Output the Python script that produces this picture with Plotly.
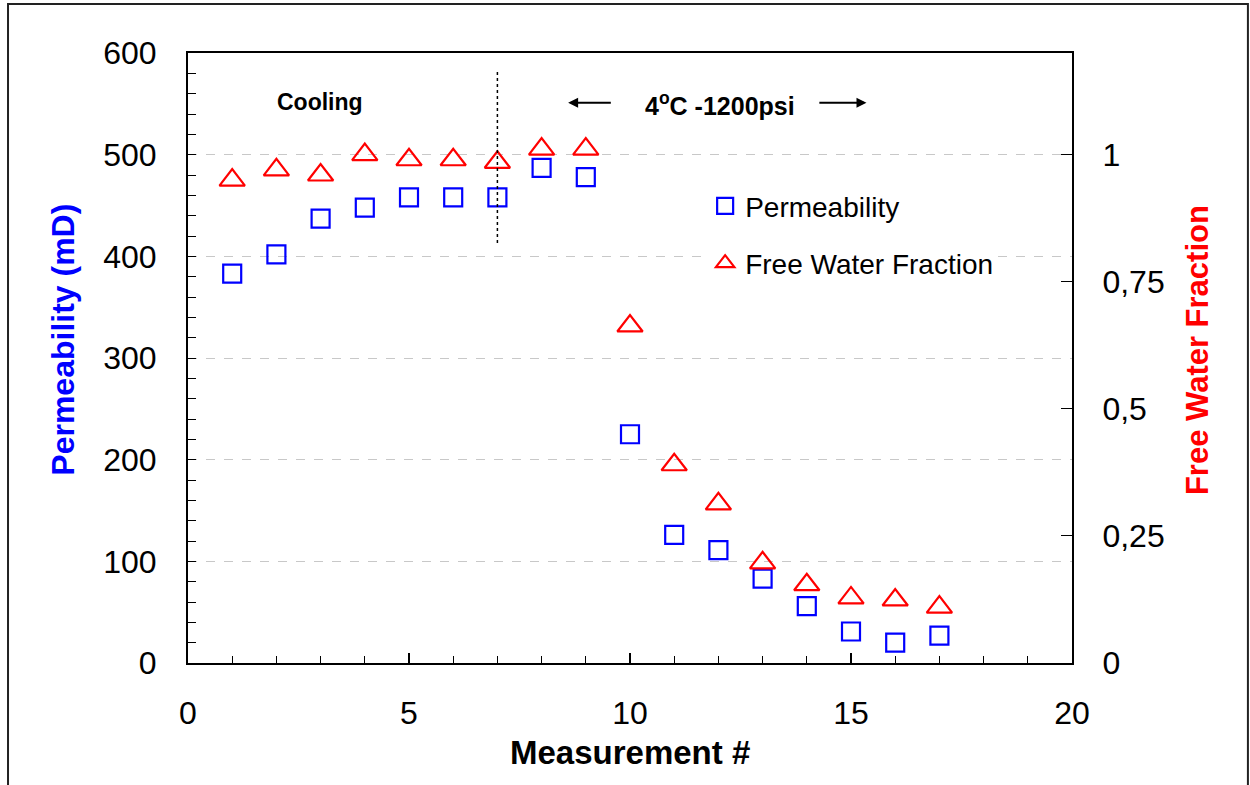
import plotly.graph_objects as go

measurement = list(range(1, 18))
permeability = [383, 402, 437, 448, 458, 458, 458, 487, 478, 225, 126, 111, 83, 56, 31, 20, 27]
free_water = [0.95, 0.97, 0.96, 1.0, 0.99, 0.99, 0.985, 1.011, 1.011, 0.663, 0.39, 0.313,
              0.197, 0.154, 0.128, 0.124, 0.11]

FONT = "Liberation Sans, Arial, sans-serif"
BLUE = "#0000FF"
RED = "#FF0000"

fig = go.Figure()
fig.add_trace(go.Scatter(
    x=measurement, y=permeability, mode="markers", name="Permeability",
    marker=dict(symbol="square-open", size=18, color=BLUE, line=dict(width=2.2, color=BLUE)),
    legendgroup="a", yaxis="y"))
fig.add_trace(go.Scatter(
    x=measurement, y=free_water, mode="markers", name="Free Water Fraction",
    marker=dict(symbol="triangle-up-open", size=22, color=RED, line=dict(width=2.2, color=RED)),
    legendgroup="b", yaxis="y2"))

fig.update_layout(
    width=1250, height=785,
    margin=dict(l=188, r=178, t=53, b=122),
    paper_bgcolor="white", plot_bgcolor="white",
    separators=",.",
    font=dict(family=FONT, size=32, color="black"),
    showlegend=True,
    legend=dict(x=0.585, y=0.79, xanchor="left", yanchor="top",
                bgcolor="white", font=dict(size=28, family=FONT),
                traceorder="grouped", tracegroupgap=18, itemwidth=30),
    xaxis=dict(range=[0, 20], dtick=5, tick0=0, showgrid=False, zeroline=False,
               showline=True, linecolor="black", linewidth=2, mirror=True,
               ticks="inside", ticklen=10, tickwidth=1.5, tickcolor="black",
               minor=dict(dtick=1, ticks="inside", ticklen=7, tickwidth=1.2, tickcolor="black", showgrid=False),
               ticklabelstandoff=21, tickfont=dict(size=32)),
    yaxis=dict(range=[0, 600], dtick=100, tick0=0, showgrid=True, gridcolor="#c8c8c8",
               griddash="dash", gridwidth=1, zeroline=False,
               showline=True, linecolor="black", linewidth=2, mirror=True,
               ticks="inside", ticklen=8, tickwidth=1.2, tickcolor="black",
               minor=dict(dtick=20, ticks="inside", ticklen=8, tickwidth=1.2, tickcolor="black", showgrid=False),
               ticklabelstandoff=23, tickfont=dict(size=32)),
    yaxis2=dict(range=[0, 1.2], overlaying="y", side="right", showgrid=False, zeroline=False,
                tickvals=[0, 0.25, 0.5, 0.75, 1], ticktext=["0", "0,25", "0,5", "0,75", "1"],
                showline=True, linecolor="black", linewidth=2,
                ticks="inside", ticklen=11, tickwidth=1.2, tickcolor="black",
                ticklabelstandoff=22, tickfont=dict(size=32)),
)

# vertical dotted divider at measurement 7
fig.add_shape(type="line", xref="x", yref="y", x0=7, x1=7, y0=413, y1=583,
              line=dict(color="black", width=1.5, dash="dot"))

# outer border
fig.add_shape(type="rect", xref="paper", yref="paper",
              x0=-0.2036, x1=1.199, y0=-0.215, y1=1.0803,
              line=dict(color="#222222", width=2), fillcolor="rgba(0,0,0,0)", layer="below")

fig.add_annotation(x=2.99, y=552, xref="x", yref="y", text="<b>Cooling</b>",
                   showarrow=False, font=dict(family=FONT, size=23, color="black"))
fig.add_annotation(x=12.04, y=550, xref="x", yref="y", text="<b>4<sup>o</sup>C -1200psi</b>",
                   showarrow=False, font=dict(family=FONT, size=25, color="black"))
fig.add_annotation(x=8.6, y=551, ax=9.6, ay=551, xref="x", yref="y", axref="x", ayref="y",
                   text="", showarrow=True, arrowhead=2, arrowsize=1, arrowwidth=2, arrowcolor="black")
fig.add_annotation(x=15.35, y=551, ax=14.25, ay=551, xref="x", yref="y", axref="x", ayref="y",
                   text="", showarrow=True, arrowhead=2, arrowsize=1, arrowwidth=2, arrowcolor="black")

# axis titles
fig.add_annotation(x=-0.1414, y=0.53, xref="paper", yref="paper", xanchor="center", yanchor="middle",
                   text="<b>Permeability (mD)</b>",
                   textangle=-90, showarrow=False, font=dict(family=FONT, size=32, color=BLUE))
fig.add_annotation(x=1.1414, y=0.513, xref="paper", yref="paper", xanchor="center", yanchor="middle",
                   text="<b>Free Water Fraction</b>",
                   textangle=-90, showarrow=False, font=dict(family=FONT, size=31, color=RED))
fig.add_annotation(x=0.5, y=-0.146, xref="paper", yref="paper", xanchor="center", yanchor="middle",
                   text="<b>Measurement #</b>",
                   showarrow=False, font=dict(family=FONT, size=33, color="black"))

fig.write_html("out.html")
